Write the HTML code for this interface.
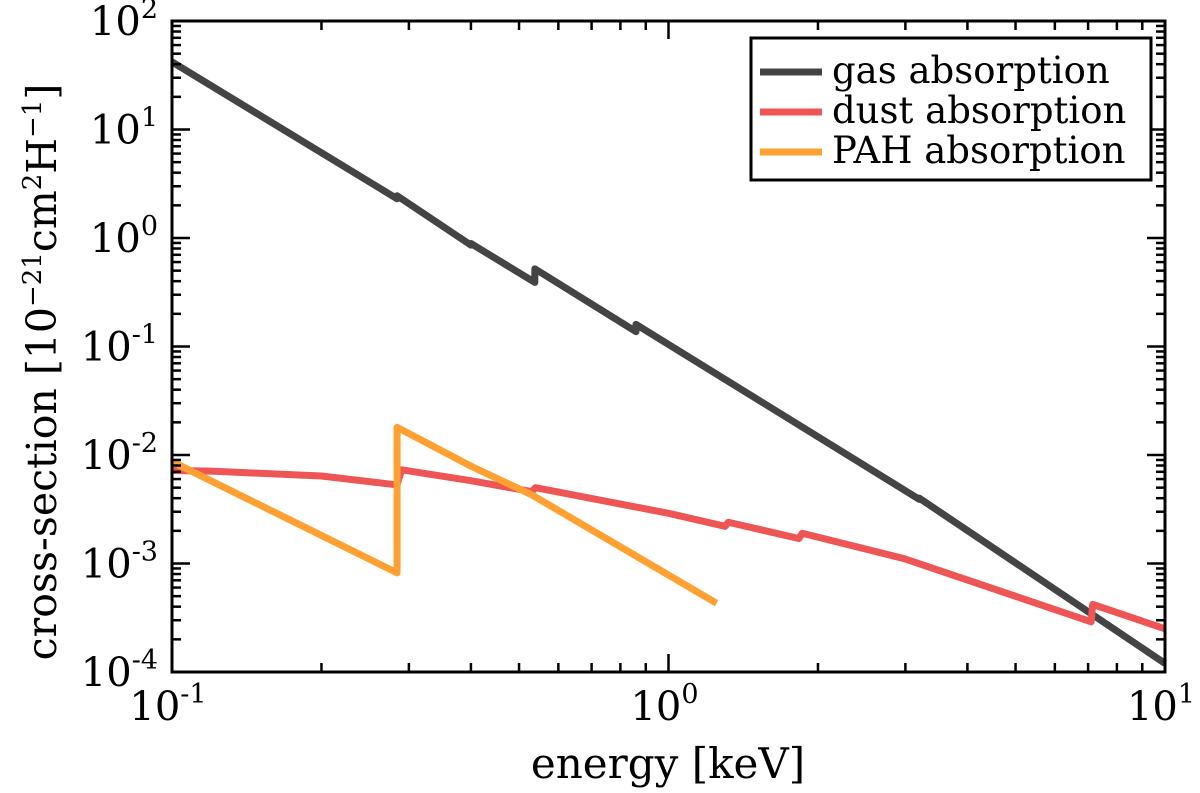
<!DOCTYPE html>
<html><head><meta charset="utf-8"><style>
body{margin:0;background:#fff}
svg text{font-family:"DejaVu Serif","Liberation Serif",serif;fill:#000}
</style></head><body>
<svg id="chart" width="1200" height="788" xmlns="http://www.w3.org/2000/svg"></svg>
<script>
const gasE=[0.1,0.284,0.284,0.40,0.40,0.538,0.538,0.86,0.86,3.2,3.2,10];
const gasV=[42,2.3,2.45,0.86,0.89,0.39,0.52,0.137,0.16,0.0039,0.0040,0.00012];
const dustE=[0.1,0.12,0.2,0.284,0.29,0.40,0.53,0.54,1.0,1.3,1.32,1.83,1.86,3.0,7.1,7.15,10];
const dustV=[0.0072,0.0071,0.0064,0.0053,0.0073,0.0058,0.0046,0.0050,0.0029,0.0022,0.0024,0.0017,0.0019,0.0011,0.00029,0.00042,0.00025];
const pahE=[0.1,0.284,0.284,0.40,0.53,1.25];
const pahV=[0.0087,0.00082,0.018,0.0079,0.0043,0.00043];
const seriesNames=["gas absorption","dust absorption","PAH absorption"];
const seriesColors=["#444444","#ee5555","#ffa033"];
const yTickExp=[2,1,0,-1,-2,-3,-4];
const xTickExp=[-1,0,1];

const L=172,R=1165,T=21,B=672;
const X=e=>L+(Math.log10(e)+1)/2*(R-L);
const Y=v=>T+(2-Math.log10(v))/6*(B-T);
const svg=document.getElementById('chart');
const NS='http://www.w3.org/2000/svg';
function mk(tag,attrs,parent){const el=document.createElementNS(NS,tag);for(const k in attrs)el.setAttribute(k,attrs[k]);(parent||svg).appendChild(el);return el;}

const data=[[gasE,gasV],[dustE,dustV],[pahE,pahV]];
data.forEach((d,i)=>{
  const p=mk('polyline',{points:d[0].map((e,j)=>X(e)+','+Y(d[1][j])).join(' '),fill:'none',stroke:seriesColors[i],'stroke-width':7,'stroke-linejoin':'round'});
  
  
});

const tg=mk('g',{stroke:'#000','stroke-width':2.5});


for(let d=-4;d<2;d++)for(let m=1;m<10;m++){const y=Y(m*Math.pow(10,d));const len=m==1?18:9;
  mk('line',{x1:L,x2:L+len,y1:y,y2:y},tg);mk('line',{x1:R,x2:R-len,y1:y,y2:y},tg);}
for(let d=-1;d<1;d++)for(let m=1;m<10;m++){const x=X(m*Math.pow(10,d));const len=m==1?18:9;
  mk('line',{x1:x,x2:x,y1:B,y2:B-len},tg);mk('line',{x1:x,x2:x,y1:T,y2:T+len},tg);}

const fr=mk('rect',{x:L,y:T,width:R-L,height:B-T,fill:'none',stroke:'#000','stroke-width':3});



yTickExp.forEach(e=>{
  const t=mk('text',{x:L-14,y:Y(Math.pow(10,e))+14,'font-size':40,'text-anchor':'end'});
  t.innerHTML='10<tspan dy="-17" font-size="27">'+e+'</tspan>';
  
  
});
xTickExp.forEach(e=>{
  const t=mk('text',{x:X(Math.pow(10,e))-4,y:B+48,'font-size':40,'text-anchor':'middle'});
  t.innerHTML='10<tspan dy="-17" font-size="27">'+e+'</tspan>';
  
  
});
const xt=mk('text',{x:668,y:778,'font-size':42,'text-anchor':'middle'});
xt.textContent='energy [keV]';


const yt=mk('text',{x:0,y:0,'font-size':41,'text-anchor':'middle',transform:'translate(56,372) rotate(-90)'});
yt.innerHTML='cross-section [10<tspan dy="-15" font-size="26">−21</tspan><tspan dy="15">cm</tspan><tspan dy="-15" font-size="26">2</tspan><tspan dy="15">H</tspan><tspan dy="-15" font-size="26">−1</tspan><tspan dy="15">]</tspan>';



const lg=mk('g',{});


mk('rect',{x:751,y:38,width:400,height:142,fill:'#fff',stroke:'#000','stroke-width':3},lg);
seriesNames.forEach((n,i)=>{
  const y=72+i*40;
  const ln=mk('line',{x1:760,x2:822,y1:y,y2:y,stroke:seriesColors[i],'stroke-width':7},lg);
  
  
  const t=mk('text',{x:832,y:y+11,'font-size':37},lg);
  t.textContent=n;
  
  
});
</script>
</body></html>
